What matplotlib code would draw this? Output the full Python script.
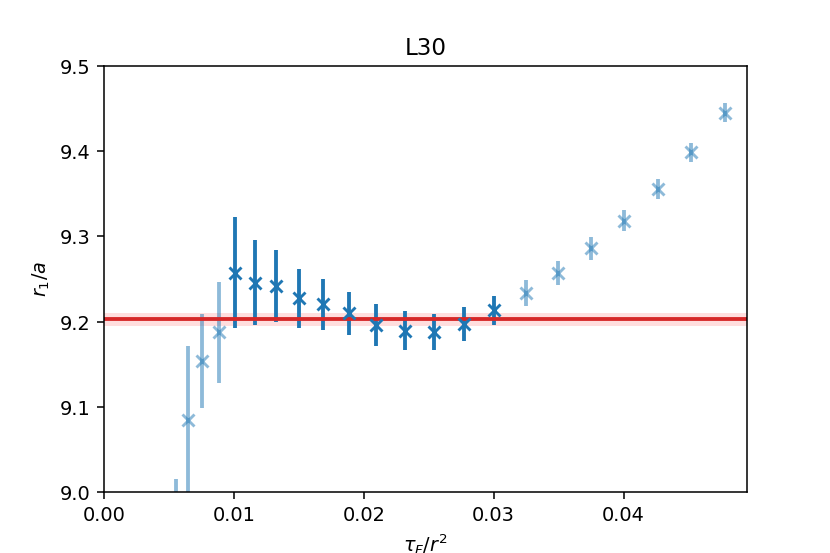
import numpy as np
import matplotlib.pyplot as plt

# flow time over r^2, all points
tau = [0.00554, 0.00648, 0.00759, 0.00887, 0.01010, 0.01164, 0.01328, 0.01502,
       0.01687, 0.01887, 0.02098, 0.02315, 0.02541, 0.02772, 0.03005, 0.03252,
       0.03498, 0.03748, 0.04002, 0.04262, 0.04518, 0.04779]
r1 = [8.900, 9.0845, 9.154, 9.1874, 9.2574, 9.2457, 9.2421, 9.2273,
      9.2203, 9.2097, 9.1960, 9.1893, 9.1878, 9.1972, 9.2136, 9.2340,
      9.2574, 9.2860, 9.3185, 9.3560, 9.3987, 9.4452]
r1_err = [0.115, 0.087, 0.055, 0.059, 0.065, 0.050, 0.042, 0.035,
          0.030, 0.025, 0.025, 0.023, 0.021, 0.020, 0.017, 0.015,
          0.014, 0.013, 0.0125, 0.012, 0.0115, 0.011]

# fit window (indices of the dark points)
fit_lo, fit_hi = 4, 15
fit_val = 9.2027
fit_err = 0.008

def main():
  tau_a = np.array(tau)
  r1_a = np.array(r1)
  err_a = np.array(r1_err)
  inside = np.zeros(len(tau_a), dtype=bool)
  inside[fit_lo:fit_hi] = True

  fig = plt.figure(figsize=(6, 4), dpi=830/6)
  ax = fig.add_subplot(111)
  ax.errorbar(tau_a[~inside], r1_a[~inside], yerr=err_a[~inside], fmt='x',
              color='tab:blue', alpha=0.5, elinewidth=2, mew=1.5)
  ax.errorbar(tau_a[inside], r1_a[inside], yerr=err_a[inside], fmt='x',
              color='tab:blue', elinewidth=2, mew=1.5)
  ax.axhline(fit_val, color='tab:red', lw=2)
  ax.axhspan(fit_val - fit_err, fit_val + fit_err, color='red', alpha=0.13, lw=0)
  ax.set_xlim(0, 0.0495)
  ax.set_ylim(9.0, 9.5)
  ax.set_title('L30')
  ax.set_xlabel(r'$\tau_F/r^2$')
  ax.set_ylabel(r'$r_1/a$')
  fig.savefig('out.png')

if __name__ == "__main__":
  main()
